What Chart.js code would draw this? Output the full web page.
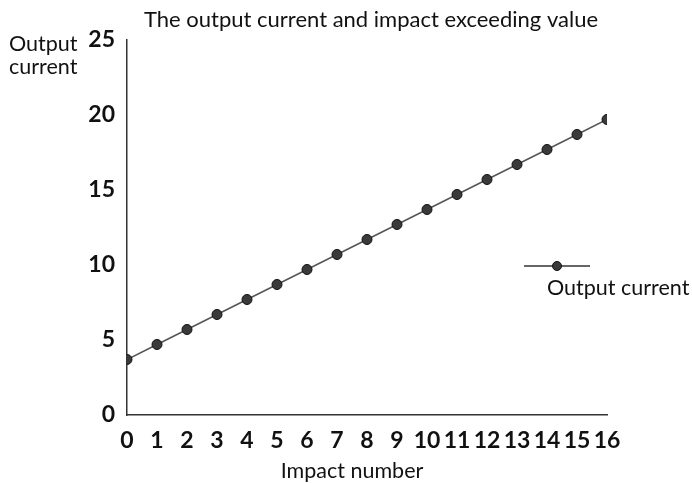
<!DOCTYPE html>
<html>
<head>
<meta charset="utf-8">
<script src="https://cdn.jsdelivr.net/npm/chart.js@4/dist/chart.umd.min.js"></script>
<style>
html,body{margin:0;padding:0;background:#fff;}
#wrap{position:relative;width:692px;height:483px;}
</style>
</head>
<body>
<div id="wrap"><canvas id="c" width="692" height="483"></canvas></div>
<script>
const impactNumbers = [0,1,2,3,4,5,6,7,8,9,10,11,12,13,14,15,16];
const outputCurrent = [3.7,4.7,5.7,6.7,7.7,8.7,9.7,10.7,11.7,12.7,13.7,14.7,15.7,16.7,17.7,18.7,19.7];
const yTicks = [0,5,10,15,20,25];
const chartTitle = "The output current and impact exceeding value";
const yTitleLines = ["Output","current"];
const xTitle = "Impact number";
const seriesName = "Output current";

const tickFont = {family:"Lato, 'Open Sans', sans-serif", size:23, weight:'bold'};
const titleFont = "22px Lato, 'Open Sans', sans-serif";
const textFont = "21.5px Lato, 'Open Sans', sans-serif";

const extras = {
  id:'extras',
  afterDraw(chart){
    const ctx = chart.ctx;
    ctx.save();
    ctx.fillStyle = '#111';
    ctx.font = titleFont;
    ctx.textBaseline = 'middle';
    ctx.textAlign = 'center';
    ctx.fillText(chartTitle, 371, 20);
    ctx.font = textFont;
    ctx.textAlign = 'left';
    ctx.fillText(yTitleLines[0], 9, 44);
    ctx.fillText(yTitleLines[1], 9, 67);
    ctx.textAlign = 'center';
    ctx.fillText(xTitle, 352, 471);
    // legend
    ctx.strokeStyle = '#333';
    ctx.lineWidth = 1.5;
    ctx.beginPath(); ctx.moveTo(524,266); ctx.lineTo(590,266); ctx.stroke();
    ctx.beginPath(); ctx.arc(557,266,4.5,0,Math.PI*2);
    ctx.fillStyle = '#3a3a3a'; ctx.fill();
    ctx.strokeStyle='#111'; ctx.lineWidth=1; ctx.stroke();
    ctx.fillStyle = '#111';
    ctx.textAlign = 'left';
    ctx.fillText(seriesName, 547, 288);
    ctx.restore();
  }
};

new Chart(document.getElementById('c'), {
  type:'line',
  data:{
    labels: impactNumbers,
    datasets:[{
      label: seriesName,
      data: outputCurrent,
      borderColor:'#555',
      borderWidth:1.5,
      pointRadius:5,
      pointBackgroundColor:'#3a3a3a',
      pointBorderColor:'#111',
      pointBorderWidth:1,
      tension:0
    }]
  },
  options:{
    responsive:false,
    animation:false,
    layout:{padding:{left:0,right:85,top:40,bottom:0}},
    plugins:{legend:{display:false},title:{display:false},tooltip:{enabled:false}},
    scales:{
      x:{
        type:'linear', min:0, max:16,
        afterFit(s){ s.height = 68; },
        afterBuildTicks(s){ s.ticks = impactNumbers.map(v=>({value:v})); },
        grid:{display:false, drawTicks:false},
        border:{display:true,color:'#333',width:1.5},
        ticks:{font:tickFont, color:'#111', padding:12, maxRotation:0, autoSkip:false}
      },
      y:{
        min:0, max:25,
        afterFit(s){ s.width = 127; },
        afterBuildTicks(s){ s.ticks = yTicks.map(v=>({value:v})); },
        grid:{display:false, drawTicks:false},
        border:{display:true,color:'#333',width:1.5},
        ticks:{font:tickFont, color:'#111', padding:12}
      }
    }
  },
  plugins:[extras]
});
</script>
</body>
</html>
